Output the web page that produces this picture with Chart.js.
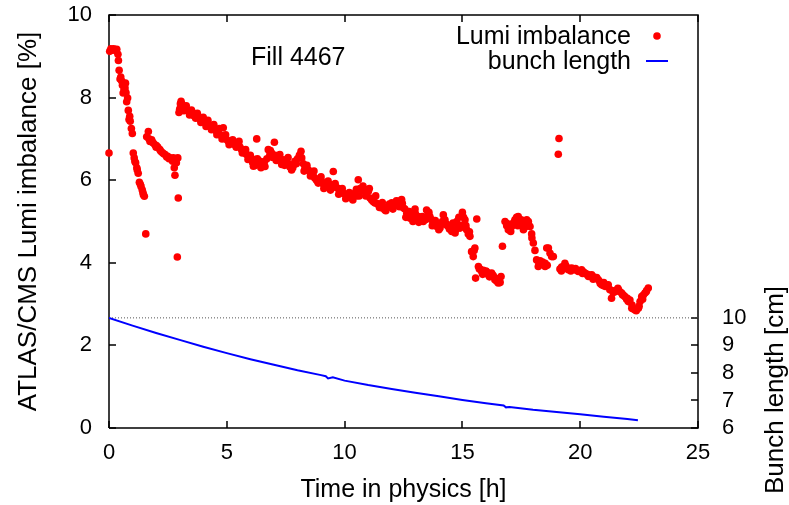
<!DOCTYPE html>
<html>
<head>
<meta charset="utf-8">
<script src="https://cdn.jsdelivr.net/npm/chart.js@4.4.1/dist/chart.umd.min.js"></script>
<style>
html, body { margin: 0; padding: 0; background: #fff; }
#wrap { width: 789px; height: 505px; }
</style>
</head>
<body>
<div id="wrap"><canvas id="fill" width="789" height="505"></canvas></div>
<script>
// Fill 4467 - ATLAS/CMS lumi imbalance vs time, with bunch length on the right axis
var FONT = '"Liberation Sans", Arial, Helvetica, sans-serif';

// lumi imbalance samples [h]
var imbTime = [
    0.00, 0.03, 0.08, 0.14, 0.20, 0.27, 0.33, 0.38, 0.40, 0.43, 0.47, 0.54, 0.60, 0.64, 0.60, 0.68, 0.70, 0.79, 0.82, 0.85,
    0.90, 0.99, 1.03, 1.07, 1.13, 1.18, 1.24, 1.29, 1.36, 1.41, 1.46, 1.50, 1.56,
    1.60, 1.67, 1.74, 1.81, 1.88, 1.95, 2.01, 2.07, 2.16, 2.26, 2.38, 2.49, 2.59, 2.66, 2.73, 2.77, 2.80, 2.83, 2.92, 2.94, 2.90,
    2.97, 3.00, 3.03, 3.06, 3.11, 3.15, 3.23, 3.30, 3.37, 3.45, 3.54, 3.60, 3.65, 3.72, 3.79, 3.86, 3.93, 4.00, 4.07, 4.15, 4.22,
    4.29, 4.36, 4.43, 4.50, 4.57, 4.64, 4.71, 4.78, 4.85, 4.92, 5.00, 5.07, 5.14, 5.21, 5.28, 5.35, 5.42, 5.49, 5.56, 5.63,
    5.70, 5.77, 5.84, 5.91, 5.98, 6.06, 6.13, 6.20, 6.27, 6.34, 6.41, 6.48, 6.55, 6.62, 6.76, 6.83, 6.90, 7.02, 7.05, 7.12,
    7.20, 7.27, 7.33, 7.33, 7.40, 7.47, 7.54, 7.62, 7.68, 7.75, 7.82, 7.89, 8.00, 8.08, 8.15, 8.18, 8.25, 8.32, 8.39, 8.46,
    8.53, 8.60, 8.67, 8.74, 8.81, 8.88, 8.95, 9.03, 9.10, 9.17, 9.25, 9.35, 9.45, 9.52, 9.59, 9.66, 9.73, 9.80, 9.87, 9.94,
    10.01, 10.09, 10.16, 10.23, 10.30, 10.37, 10.44, 10.51, 10.58, 10.66, 10.73, 10.80, 10.87, 10.94, 11.01, 11.08, 11.15, 11.22,
    11.29, 11.36, 11.43, 11.50, 11.57, 11.64, 11.71, 11.78, 11.86, 11.93, 12.00, 12.07, 12.14, 12.21, 12.28, 12.35, 12.42, 12.49,
    12.56, 12.64, 12.71, 12.78, 12.85, 12.92, 12.99, 13.06, 13.13, 13.20, 13.27, 13.34, 13.41, 13.48, 13.55, 13.62, 13.70, 13.77,
    13.84, 13.91, 13.98, 14.05, 14.12, 14.19, 14.26, 14.33, 14.40, 14.47, 14.55, 14.62, 14.69, 14.76, 14.83, 14.90, 15.00, 15.05,
    15.11, 15.18, 15.25, 15.32, 15.39, 15.46, 15.53, 15.56, 15.61, 15.68, 15.75, 15.82, 15.89, 15.96, 16.03, 16.10, 16.17, 16.24,
    16.31, 16.38, 16.45, 16.52, 16.58, 16.64, 16.70, 16.81, 16.88, 16.95, 17.02, 17.09, 17.16, 17.23, 17.30, 17.37, 17.45, 17.52,
    17.59, 17.66, 17.73, 17.80, 17.87, 17.94, 18.01, 18.08, 18.15, 18.22, 18.30, 18.37, 18.44, 18.51, 18.51, 18.58, 18.65, 18.72,
    18.79, 18.86, 19.07, 19.10, 19.14, 19.21, 19.28, 19.35, 19.42, 19.50, 19.57, 19.64, 19.71, 19.78, 19.85, 19.92, 19.99, 20.06,
    20.13, 20.20, 20.27, 20.35, 20.42, 20.49, 20.56, 20.63, 20.70, 20.77, 20.84, 20.91, 20.98, 21.05, 21.12, 21.19, 21.26, 21.33,
    21.40, 21.48, 21.55, 21.62, 21.69, 21.76, 21.83, 21.90, 21.97, 22.04, 22.11, 22.19, 22.26, 22.33, 22.40, 22.47, 22.54, 22.61,
    22.68, 22.75, 22.82, 22.89,
    // second pass over the thick parts of the band
    0.50, 0.57, 0.65, 0.72, 0.75, 0.88, 0.95, 1.10, 1.20, 1.33, 1.44, 1.70, 1.85, 2.00, 2.20, 2.32, 2.45, 2.55, 2.70, 2.86,
    3.18, 3.28, 3.42, 3.50, 3.68, 3.75, 3.90, 4.00, 4.12, 4.20, 4.35, 4.45, 4.58, 4.68, 4.80, 4.95, 5.10, 5.25, 5.40, 5.52,
    5.66, 5.80, 5.90, 6.00, 6.10, 6.22, 6.30, 6.45, 6.60, 6.70, 6.85, 6.95, 7.10, 7.25, 7.45, 7.60, 7.80, 7.95, 8.10, 8.28,
    8.40, 8.55, 8.70, 8.85, 9.00, 9.12, 9.30, 9.40, 9.60, 9.75, 9.90, 10.05, 10.20, 10.35, 10.50, 10.62, 10.78, 10.90, 11.05, 11.20,
    11.32, 11.48, 11.60, 11.75, 11.90, 12.05, 12.20, 12.32, 12.45, 12.60, 12.75, 12.90, 13.00, 13.15, 13.30, 13.45, 13.58, 13.72, 13.85, 14.00,
    14.15, 14.30, 14.45, 14.60, 14.72, 14.85, 14.95, 15.15, 15.30, 15.50, 15.72, 15.86, 16.00, 16.15, 16.30, 16.45, 16.60, 16.90, 17.05, 17.20,
    17.35, 17.50, 17.65, 17.80, 17.95, 18.25, 18.40, 18.60, 19.20, 19.40, 19.60, 19.80, 20.10, 20.30, 20.55, 20.70, 20.85, 21.00, 21.15, 21.40,
    21.60, 21.80, 22.00, 22.20, 22.38, 22.50, 22.65, 22.80
];
// lumi imbalance [%]
var imbValue = [
    6.66, 9.12, 9.18, 9.15, 9.18, 9.14, 9.17, 9.05, 8.90, 8.66, 8.45, 8.40, 8.31, 8.20, 8.11, 8.23, 8.35, 7.99, 7.69, 7.47,
    7.43, 7.13, 6.66, 6.54, 6.42, 6.30, 6.17, 5.95, 5.85, 5.77, 5.65, 5.61, 4.70,
    7.05, 7.18, 6.94, 6.98, 6.90, 6.86, 6.84, 6.80, 6.74, 6.67, 6.62, 6.58, 6.54, 6.50, 6.54, 6.30, 6.12, 6.50, 6.54, 5.57, 4.14,
    7.64, 7.72, 7.85, 7.91, 7.83, 7.76, 7.75, 7.70, 7.67, 7.62, 7.64, 7.56, 7.59, 7.55, 7.51, 7.49, 7.47, 7.44, 7.40, 7.38, 7.35,
    7.33, 7.30, 7.26, 7.22, 7.18, 7.14, 7.10, 7.08, 7.27, 7.02, 6.98, 6.94, 6.92, 6.90, 6.88, 6.86, 6.88, 6.86, 6.80, 6.74,
    6.70, 6.66, 6.62, 6.58, 6.54, 6.50, 6.34, 6.50, 7.00, 6.42, 6.46, 6.42, 6.38, 6.33, 6.74, 6.62, 6.66, 6.92, 6.60, 6.58,
    6.55, 6.52, 6.50, 6.38, 6.46, 6.48, 6.50, 6.40, 6.32, 6.25, 6.36, 6.46, 6.52, 6.60, 6.70, 6.54, 6.40, 6.30, 6.28, 6.25,
    6.20, 6.17, 6.10, 6.05, 6.00, 5.93, 6.00, 5.97, 5.90, 5.85, 5.92, 5.90, 5.88, 6.21, 5.85, 5.82, 5.80, 5.77, 5.72, 5.69,
    5.66, 5.61, 5.64, 5.60, 5.57, 5.64, 5.69, 5.62, 6.01, 5.80, 5.77, 5.74, 5.77, 5.70, 5.73, 5.57, 5.52, 5.48,
    5.45, 5.44, 5.41, 5.38, 5.33, 5.35, 5.28, 5.32, 5.36, 5.40, 5.45, 5.38, 5.41, 5.46, 5.49, 5.45, 5.53, 5.33,
    5.30, 5.20, 5.16, 5.08, 5.20, 5.12, 5.30, 5.08, 5.12, 5.04, 5.06, 5.00, 5.10, 5.28, 5.16, 5.12, 5.04, 4.96,
    4.92, 4.88, 4.90, 4.84, 4.95, 5.16, 5.04, 4.94, 4.88, 4.82, 4.76, 4.80, 4.72, 5.00, 4.88, 4.84, 5.22, 5.10,
    5.04, 4.80, 4.70, 4.64, 4.27, 4.15, 4.36, 3.63, 5.06, 3.91, 3.85, 3.79, 3.82, 3.75, 3.78, 3.71, 3.74, 3.75,
    3.68, 3.59, 3.62, 3.51, 3.56, 3.67, 4.40, 5.00, 4.90, 4.80, 4.84, 4.88, 4.96, 5.04, 5.10, 5.12, 4.96, 4.90,
    4.80, 4.92, 5.04, 4.95, 4.88, 4.70, 4.48, 4.30, 4.07, 3.91, 4.05, 3.98, 3.95, 3.99, 3.91, 4.36, 4.36, 4.23,
    4.15, 4.15, 6.63, 7.01, 3.85, 3.90, 3.91, 3.99, 3.86, 3.83, 3.86, 3.87, 3.85, 3.83, 3.82, 3.79, 3.80, 3.83,
    3.78, 3.75, 3.72, 3.67, 3.70, 3.71, 3.66, 3.63, 3.62, 3.59, 3.54, 3.47, 3.45, 3.43, 3.46, 3.47, 3.35, 3.14,
    3.32, 3.30, 3.34, 3.35, 3.30, 3.27, 3.22, 3.18, 3.12, 3.06, 3.10, 2.90, 2.88, 2.86, 2.88, 2.90, 3.06, 3.18,
    3.22, 3.27, 3.33, 3.39,
    8.50, 8.30, 8.28, 8.12, 7.90, 7.55, 7.25, 6.45, 6.25, 5.90, 5.70, 7.00, 6.92, 6.80, 6.70, 6.64, 6.56, 6.52, 6.46, 6.42,
    7.68, 7.80, 7.58, 7.70, 7.50, 7.62, 7.40, 7.52, 7.30, 7.45, 7.22, 7.35, 7.10, 7.25, 7.00, 7.10, 6.86, 6.98, 6.80, 6.94,
    6.66, 6.74, 6.50, 6.60, 6.42, 6.36, 6.52, 6.30, 6.45, 6.52, 6.72, 6.55, 6.48, 6.62, 6.36, 6.55, 6.30, 6.40, 6.60, 6.22,
    6.36, 6.10, 6.22, 5.98, 6.08, 5.80, 5.98, 5.76, 5.92, 5.66, 5.80, 5.55, 5.70, 5.52, 5.78, 5.62, 5.86, 5.62, 5.80, 5.50,
    5.62, 5.34, 5.46, 5.26, 5.42, 5.30, 5.50, 5.36, 5.44, 5.10, 5.24, 5.00, 5.20, 4.98, 5.12, 5.05, 5.22, 4.90, 5.02, 4.80,
    5.00, 4.92, 4.82, 4.96, 4.80, 5.10, 4.90, 4.90, 4.75, 4.30, 3.85, 3.72, 3.80, 3.66, 3.70, 3.56, 3.52, 4.95, 4.76, 4.98,
    4.90, 5.04, 4.86, 5.00, 4.60, 3.98, 4.02, 3.94, 3.80, 3.92, 3.80, 3.86, 3.74, 3.72, 3.60, 3.64, 3.50, 3.52, 3.42, 3.28,
    3.38, 3.22, 3.14, 2.98, 2.84, 2.95, 3.12, 3.30
];

// bunch length samples
var bunchTime = [0, 1, 2, 3, 4, 5, 6, 7, 8, 9, 9.2, 9.3, 9.5, 10, 11, 12, 13, 14, 15, 16, 16.75, 16.85, 17, 18, 19, 20, 21, 22, 22.45];
var bunchCm   = [10.0, 9.72, 9.45, 9.20, 8.95, 8.72, 8.50, 8.30, 8.10, 7.92, 7.88, 7.80, 7.84, 7.72, 7.56, 7.42, 7.28, 7.15, 7.02, 6.90, 6.82, 6.75, 6.76, 6.66, 6.58, 6.50, 6.41, 6.33, 6.28];

var refBunchCm = 10;   // dotted reference level

// tick values (gnuplot tics, drawn inward)
var xTicks  = [0, 5, 10, 15, 20, 25];
var yTicks  = [0, 2, 4, 6, 8, 10];
var y2Ticks = [6, 7, 8, 9, 10];
var xRange = [0, 25], yRange = [0, 10];

var imbPoints = imbTime.map(function (t, i) { return {x: t, y: imbValue[i]}; });
var bunchPoints = bunchTime.map(function (t, i) { return {x: t, y: bunchCm[i]}; });

// small canvas used as point style: a 1.5px bar covering one half of the box
function tickMark(vertical, firstHalf) {
    var cv = document.createElement('canvas');
    var len = 14;
    cv.width = vertical ? 2 : len;
    cv.height = vertical ? len : 2;
    var g = cv.getContext('2d');
    g.fillStyle = '#000';
    if (vertical) g.fillRect(0.25, firstHalf ? 0 : len / 2, 1.5, len / 2);
    else g.fillRect(firstHalf ? 0 : len / 2, 0.25, len / 2, 1.5);
    return cv;
}

function tickSet(points, axisId, style) {
    return {
        type: 'scatter', data: points, yAxisID: axisId,
        pointStyle: style, pointRadius: 7, pointHoverRadius: 7, clip: false
    };
}

// no edge padding: the plot frame sits at fixed pixels like the gnuplot original
function noEdge(scale) {
    scale.paddingTop = 0; scale.paddingBottom = 0;
    scale.paddingLeft = 0; scale.paddingRight = 0;
}

// labels that gnuplot puts by hand: fill number, key, right axis title
var textPlugin = {
    id: 'gnuText',
    afterDraw: function (chart) {
        var c = chart.ctx;
        c.save();
        c.fillStyle = '#000';
        c.font = '25px ' + FONT;
        c.textBaseline = 'alphabetic';
        c.textAlign = 'left';
        c.fillText('Fill 4467', 251, 65);

        c.textAlign = 'right';
        c.fillText('Lumi imbalance', 631, 44);
        c.fillText('bunch length', 631, 69);
        c.fillStyle = 'rgb(255,0,0)';
        c.beginPath();
        c.arc(657, 36, 3.8, 0, Math.PI * 2);
        c.fill();
        c.fillStyle = 'rgb(0,0,255)';
        c.fillRect(646, 60, 22, 2);

        c.fillStyle = '#000';
        c.font = '26px ' + FONT;
        c.translate(776, 390);
        c.rotate(-Math.PI / 2);
        c.textAlign = 'center';
        c.textBaseline = 'middle';
        c.fillText('Bunch length [cm]', 0, 0);
        c.restore();
    }
};

var canvas = document.getElementById('fill');
window.fillChart = new Chart(canvas.getContext('2d'), {
    type: 'scatter',
    data: {
        datasets: [{
            label: 'Lumi imbalance',
            data: imbPoints,
            pointRadius: 3.8,
            pointHoverRadius: 3.8,
            backgroundColor: 'rgb(255,0,0)',
            borderWidth: 0,
            clip: 6
        }, {
            type: 'line',
            label: 'bunch length',
            data: bunchPoints,
            yAxisID: 'y2',
            borderColor: 'rgb(0,0,255)',
            borderWidth: 2,
            pointRadius: 0,
            tension: 0
        }, {
            type: 'line',
            label: 'ref',
            data: [{x: xRange[0], y: refBunchCm}, {x: xRange[1], y: refBunchCm}],
            yAxisID: 'y2',
            borderColor: '#555',
            borderWidth: 1,
            borderDash: [1, 2],
            pointRadius: 0
        }, {
            // plot border
            type: 'line',
            label: 'frame',
            data: [
                {x: xRange[0], y: yRange[0]}, {x: xRange[1], y: yRange[0]}, {x: xRange[1], y: yRange[1]},
                {x: xRange[0], y: yRange[1]}, {x: xRange[0], y: yRange[0]}
            ],
            borderColor: '#000',
            borderWidth: 1.5,
            pointRadius: 0,
            tension: 0,
            clip: false
        },
        tickSet(xTicks.map(function (v) { return {x: v, y: yRange[0]}; }), 'y', tickMark(true, true)),
        tickSet(xTicks.map(function (v) { return {x: v, y: yRange[1]}; }), 'y', tickMark(true, false)),
        tickSet(yTicks.map(function (v) { return {x: xRange[0], y: v}; }), 'y', tickMark(false, false)),
        tickSet(y2Ticks.map(function (v) { return {x: xRange[1], y: v}; }), 'y2', tickMark(false, true))
        ]
    },
    options: {
        responsive: false,
        animation: false,
        events: [],
        layout: { padding: { top: 15, right: 0, bottom: 0, left: 0 } },
        plugins: { legend: { display: false }, tooltip: { enabled: false } },
        scales: {
            x: {
                type: 'linear', min: xRange[0], max: xRange[1],
                grid: { display: false, drawTicks: false }, border: { display: false },
                ticks: { stepSize: 5, padding: 12, color: '#000', font: { family: FONT, size: 22 } },
                title: { display: true, text: 'Time in physics [h]', color: '#000', padding: { top: 0, bottom: 0 }, font: { family: FONT, size: 25 } },
                afterFit: function (scale) { scale.height = 77; noEdge(scale); }
            },
            y: {
                position: 'left', min: yRange[0], max: yRange[1],
                grid: { display: false, drawTicks: false }, border: { display: false },
                ticks: { stepSize: 2, padding: 17, color: '#000', font: { family: FONT, size: 22 } },
                title: { display: true, text: 'ATLAS/CMS Lumi imbalance [%]', color: '#000', padding: { top: 13, bottom: 0 }, font: { family: FONT, size: 26 } },
                afterFit: function (scale) { scale.width = 109; noEdge(scale); }
            },
            y2: {
                position: 'right', min: 6, max: 21,
                grid: { display: false, drawTicks: false }, border: { display: false },
                ticks: { stepSize: 1, padding: 24, color: '#000', font: { family: FONT, size: 22 } },
                afterBuildTicks: function (scale) {
                    scale.ticks = scale.ticks.filter(function (t) { return t.value <= 10; });
                },
                afterFit: function (scale) { scale.width = 91; noEdge(scale); }
            }
        }
    },
    plugins: [textPlugin]
});
</script>
</body>
</html>
